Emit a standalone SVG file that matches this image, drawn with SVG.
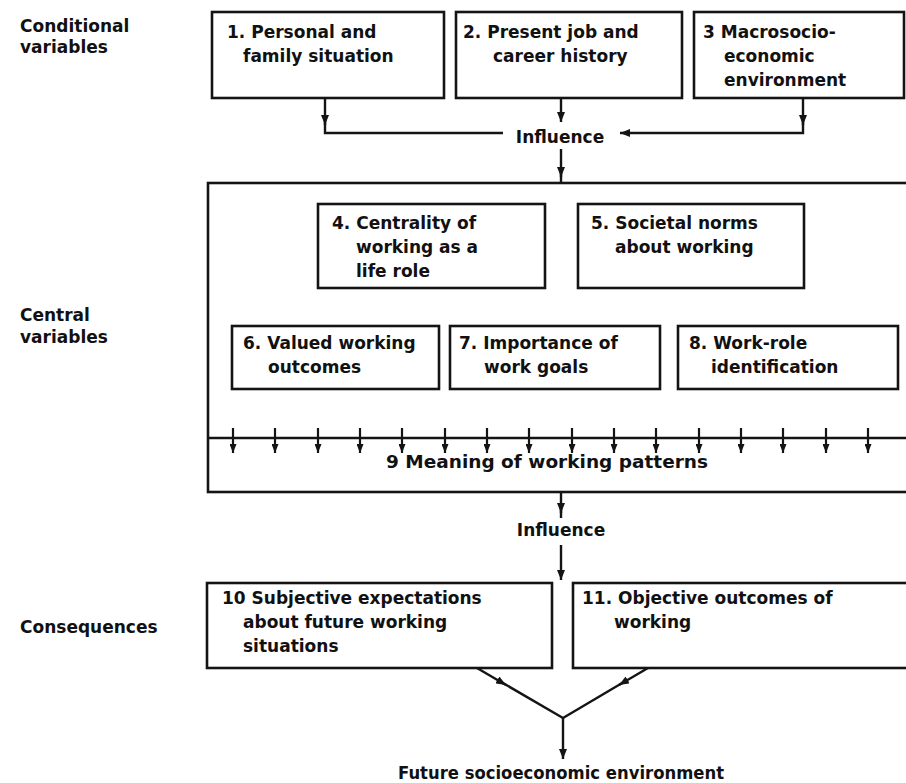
<svg xmlns="http://www.w3.org/2000/svg" width="906" height="783" viewBox="0 0 906 783">
<defs>
<style>
.box{fill:none;stroke:#141414;stroke-width:2.6}
.ln{fill:none;stroke:#141414;stroke-width:2.4}
.tk{fill:none;stroke:#141414;stroke-width:2.2}
text{font-family:"DejaVu Sans","Liberation Sans",sans-serif;font-weight:bold;font-size:17px;fill:#111}
.mid{text-anchor:middle}
</style>
<marker id="ah" markerUnits="userSpaceOnUse" markerWidth="10" markerHeight="8" refX="10" refY="4" orient="auto">
<path d="M0,0 L10,4 L0,8 z" fill="#141414"/>
</marker>
<marker id="ta" markerUnits="userSpaceOnUse" markerWidth="9" markerHeight="7" refX="9" refY="3.5" orient="auto">
<path d="M0,0 L9,3.5 L0,7 z" fill="#141414"/>
</marker>
</defs>
<rect width="906" height="783" fill="#fff"/>

<g id="section-labels">
<text x="20" y="32">Conditional</text>
<text x="20" y="53">variables</text>
<text x="20" y="321">Central</text>
<text x="20" y="343">variables</text>
<text x="20" y="633">Consequences</text>
</g>

<g id="n1">
<rect class="box" x="212" y="12" width="232" height="86"/>
<text x="227" y="38">1. Personal and</text>
<text x="243" y="62">family situation</text>
</g>
<g id="n2">
<rect class="box" x="456" y="12" width="226" height="86"/>
<text x="463" y="38">2. Present job and</text>
<text x="493" y="62">career history</text>
</g>
<g id="n3">
<rect class="box" x="694" y="12" width="210" height="86"/>
<text x="703" y="38">3 Macrosocio-</text>
<text x="724" y="62">economic</text>
<text x="724" y="86">environment</text>
</g>

<g id="influence-1">
<text class="mid" x="560" y="143">Influence</text>
</g>

<g id="central-frame">
<rect class="box" x="208" y="183" width="712" height="309"/>
</g>
<g id="n4">
<rect class="box" x="318" y="204" width="227" height="84"/>
<text x="332" y="229">4. Centrality of</text>
<text x="356" y="253">working as a</text>
<text x="356" y="277">life role</text>
</g>
<g id="n5">
<rect class="box" x="578" y="204" width="226" height="84"/>
<text x="591" y="229">5. Societal norms</text>
<text x="615" y="253">about working</text>
</g>
<g id="n6">
<rect class="box" x="232" y="326" width="207" height="63"/>
<text x="243" y="349">6. Valued working</text>
<text x="268" y="373">outcomes</text>
</g>
<g id="n7">
<rect class="box" x="450" y="326" width="210" height="63"/>
<text x="459" y="349">7. Importance of</text>
<text x="484" y="373">work goals</text>
</g>
<g id="n8">
<rect class="box" x="678" y="326" width="220" height="63"/>
<text x="689" y="349">8. Work-role</text>
<text x="711" y="373">identification</text>
</g>
<g id="n9">
<text x="386" y="468" textLength="322" lengthAdjust="spacingAndGlyphs">9 Meaning of working patterns</text>
</g>

<g id="influence-2">
<text class="mid" x="561" y="536">Influence</text>
</g>

<g id="n10">
<rect class="box" x="207" y="583" width="345" height="85"/>
<text x="222" y="604">10 Subjective expectations</text>
<text x="243" y="628">about future working</text>
<text x="243" y="652">situations</text>
</g>
<g id="n11">
<rect class="box" x="573" y="583" width="345" height="85"/>
<text x="582" y="604">11. Objective outcomes of</text>
<text x="614" y="628">working</text>
</g>

<g id="n12">
<text x="398" y="779" textLength="326" lengthAdjust="spacingAndGlyphs">Future socioeconomic environment</text>
</g>

<g id="connectors">
<path class="ln" d="M325,98 V125" marker-end="url(#ah)"/>
<path class="ln" d="M325,120 V133 H503"/>
<path class="ln" d="M561,98 V122" marker-end="url(#ah)"/>
<path class="ln" d="M803,98 V125" marker-end="url(#ah)"/>
<path class="ln" d="M803,120 V133 H620" marker-end="url(#ah)"/>
<path class="ln" d="M561,149 V177" marker-end="url(#ah)"/>
<path class="ln" d="M561,172 V183"/>
<path class="ln" d="M208,438 H906"/>
<g id="ticks">
<path class="tk" d="M233,428 V453" marker-end="url(#ta)"/>
<path class="tk" d="M275,428 V453" marker-end="url(#ta)"/>
<path class="tk" d="M318,428 V453" marker-end="url(#ta)"/>
<path class="tk" d="M360,428 V453" marker-end="url(#ta)"/>
<path class="tk" d="M402,428 V453" marker-end="url(#ta)"/>
<path class="tk" d="M445,428 V453" marker-end="url(#ta)"/>
<path class="tk" d="M487,428 V453" marker-end="url(#ta)"/>
<path class="tk" d="M529,428 V453" marker-end="url(#ta)"/>
<path class="tk" d="M572,428 V453" marker-end="url(#ta)"/>
<path class="tk" d="M614,428 V453" marker-end="url(#ta)"/>
<path class="tk" d="M656,428 V453" marker-end="url(#ta)"/>
<path class="tk" d="M699,428 V453" marker-end="url(#ta)"/>
<path class="tk" d="M741,428 V453" marker-end="url(#ta)"/>
<path class="tk" d="M783,428 V453" marker-end="url(#ta)"/>
<path class="tk" d="M826,428 V453" marker-end="url(#ta)"/>
<path class="tk" d="M868,428 V453" marker-end="url(#ta)"/>
</g>
<path class="ln" d="M561,492 V513" marker-end="url(#ah)"/>
<path class="ln" d="M561,508 V518"/>
<path class="ln" d="M561,545 V580" marker-end="url(#ah)"/>
<path class="ln" d="M477,668 L506,685" marker-end="url(#ah)"/>
<path class="ln" d="M502,682.5 L563,718"/>
<path class="ln" d="M648,668 L619,685" marker-end="url(#ah)"/>
<path class="ln" d="M623,682.5 L563,718"/>
<path class="ln" d="M563,718 V759" marker-end="url(#ah)"/>
</g>
</svg>
